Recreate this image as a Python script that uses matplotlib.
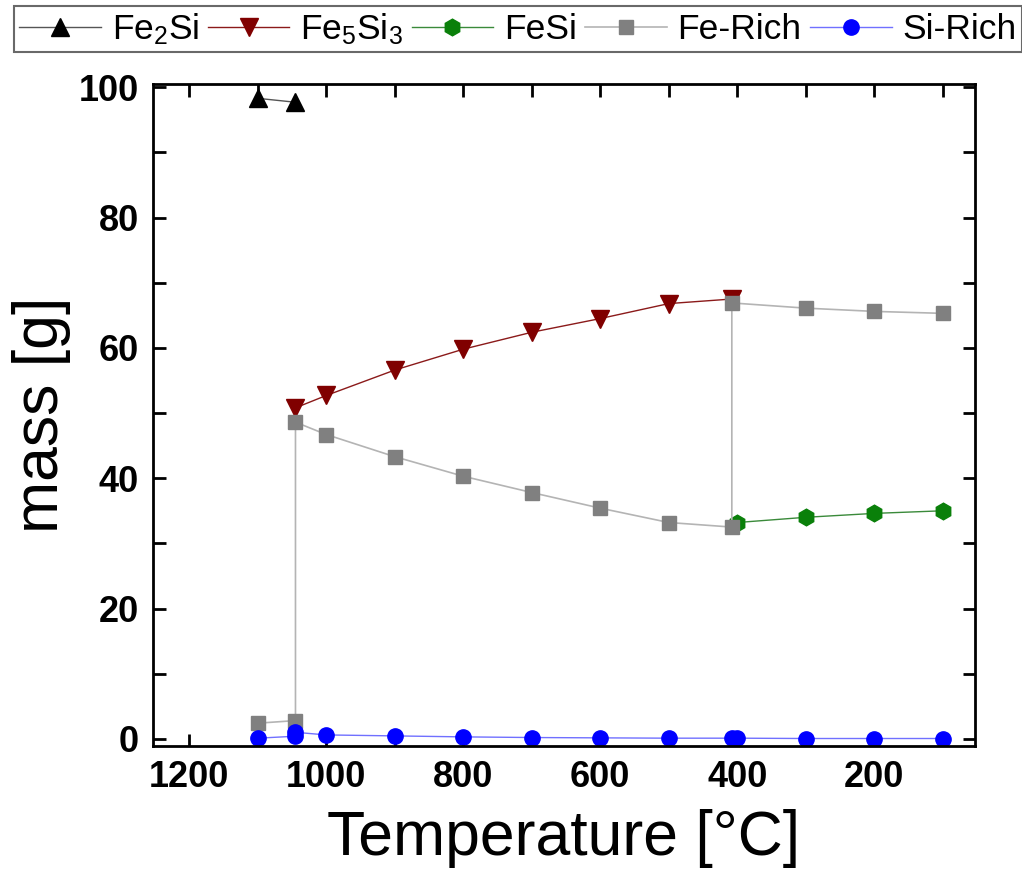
import matplotlib
matplotlib.use("Agg")
import matplotlib.pyplot as plt
from matplotlib.ticker import MultipleLocator

# phase masses vs temperature
fe2si_T = [1100, 1045]
fe2si_m = [98.3, 97.7]

fe5si3_T = [1045, 1000, 900, 800, 700, 600, 500, 408]
fe5si3_m = [50.8, 52.7, 56.6, 59.8, 62.4, 64.5, 66.8, 67.5]

fesi_T = [400, 300, 200, 100]
fesi_m = [33.2, 34.0, 34.6, 35.0]

ferich_T = [1100, 1045, 1045, 1000, 900, 800, 700, 600, 500, 408, 408, 300, 200, 100]
ferich_m = [2.4, 2.8, 48.6, 46.7, 43.3, 40.3, 37.8, 35.4, 33.2, 32.5, 66.9, 66.1, 65.6, 65.3]

sirich_T = [1100, 1045, 1045, 1000, 900, 800, 700, 600, 500, 408, 400, 300, 200, 100]
sirich_m = [0.1, 0.4, 1.0, 0.6, 0.45, 0.3, 0.2, 0.15, 0.1, 0.1, 0.1, 0.05, 0.05, 0.05]

plt.rcParams["font.family"] = ["Liberation Sans", "DejaVu Sans"]
plt.rcParams["mathtext.fontset"] = "custom"
plt.rcParams["mathtext.rm"] = "Liberation Sans"
plt.rcParams["mathtext.it"] = "Liberation Sans:italic"

fig = plt.figure(figsize=(10.22, 8.76), dpi=100)
ax = fig.add_axes([153 / 1022, 1 - 746 / 876, (975 - 153) / 1022, (746 - 84) / 876])

ax.plot(fe2si_T, fe2si_m, color="#555555", lw=1, marker="^", ms=13,
        mfc="black", mec="black", label=r"Fe$_2$Si")
ax.plot(fe5si3_T, fe5si3_m, color="#8b1a1a", lw=1, marker="v", ms=13,
        mfc="#800000", mec="#800000", label=r"Fe$_5$Si$_3$")
ax.plot(fesi_T, fesi_m, color="#3a8a3a", lw=1, marker="h", ms=12,
        mfc="#0a800a", mec="#0a800a", label="FeSi")
ax.plot(ferich_T, ferich_m, color="#b4b4b4", lw=1.2, marker="s", ms=10.5,
        mfc="#808080", mec="#808080", label="Fe-Rich")
ax.plot(sirich_T, sirich_m, color="#7070ff", lw=1, marker="o", ms=11,
        mfc="#0000ff", mec="#0000ff", label="Si-Rich")

ax.set_xlim(1253, 53)
ax.set_ylim(-1.1, 100.5)
ax.xaxis.set_major_locator(MultipleLocator(200))
ax.xaxis.set_minor_locator(MultipleLocator(100))
ax.yaxis.set_major_locator(MultipleLocator(20))
ax.yaxis.set_minor_locator(MultipleLocator(10))
ax.tick_params(which="both", direction="in", top=True, right=True,
               length=9, width=2)
ax.tick_params(which="major", labelsize=26, pad=10)
for lab in ax.get_xticklabels() + ax.get_yticklabels():
    lab.set_fontweight("bold")
for sp in ax.spines.values():
    sp.set_linewidth(2)

ax.set_xlabel("Temperature [°C]", fontsize=45, labelpad=10)
ax.set_ylabel("mass [g]", fontsize=45, labelpad=6)

leg = fig.legend(loc="upper center", bbox_to_anchor=(518 / 1022, 1 - 6 / 876), ncol=5,
                 fontsize=25.5, frameon=True, fancybox=False, edgecolor="#444444",
                 handlelength=2.3, handletextpad=0.3, columnspacing=0.25,
                 borderpad=0.15, borderaxespad=0.0)
leg.get_frame().set_linewidth(1.5)

fig.savefig("out.png", dpi=100)
